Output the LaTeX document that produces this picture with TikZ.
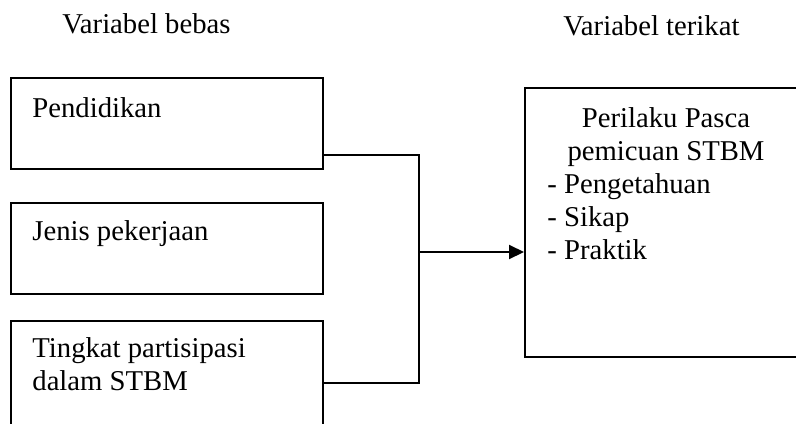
\documentclass[tikz,border=0pt]{standalone}
\usepackage{fontspec}
\setmainfont{Liberation Serif}
\usetikzlibrary{arrows.meta}
\begin{document}
\begin{tikzpicture}[x=0.5pt,y=-0.5pt,
  txt/.style={inner sep=0pt,font=\fontsize{14.35pt}{16.5pt}\selectfont},
  box/.style={draw,line width=1pt,rectangle,inner sep=0pt},
  conn/.style={line width=1pt}]
\useasboundingbox (0,0) rectangle (796,423);
\clip (0,0) rectangle (796,423);
% boxes
\node[box,minimum width=156pt,minimum height=45.5pt] (b1) at (167,123.5) {};
\node[box,minimum width=156pt,minimum height=45.5pt] (b2) at (167,248.5) {};
\node[box,minimum width=156pt,minimum height=74.5pt] (b3) at (167,395.5) {};
\node[box,minimum width=162.5pt,minimum height=134.5pt] (r) at (687.5,222.5) {};
% headers
\node[txt,anchor=base west] (h1) at (62,33) {Variabel bebas};
\node[txt,anchor=base west] (h2) at (563,35) {Variabel terikat};
% box texts
\node[txt,anchor=base west] (t1) at (32,117) {Pendidikan};
\node[txt,anchor=base west] (t2) at (32,240) {Jenis pekerjaan};
\node[txt,anchor=base west] (t3a) at (32,357) {Tingkat partisipasi};
\node[txt,anchor=base west] (t3b) at (32,390) {dalam STBM};
\node[txt,anchor=base] (r1) at (666,127) {Perilaku Pasca};
\node[txt,anchor=base] (r2) at (666,160) {pemicuan STBM};
\node[txt,anchor=base west] (r3) at (547,193) {- Pengetahuan};
\node[txt,anchor=base west] (r4) at (547,226) {- Sikap};
\node[txt,anchor=base west] (r5) at (547,259) {- Praktik};
% connectors
\coordinate (jt) at (419,155);
\coordinate (jb) at (419,383);
\coordinate (jm) at (419,252);
\draw[conn] ([yshift=-15.75pt]b1.east) -- (jt) -- (jb) -- ([yshift=6.25pt]b3.east);
\draw[conn,-{Triangle[length=7.5pt,width=7pt]}] (jm) -- (r.west |- jm);
\end{tikzpicture}
\end{document}
